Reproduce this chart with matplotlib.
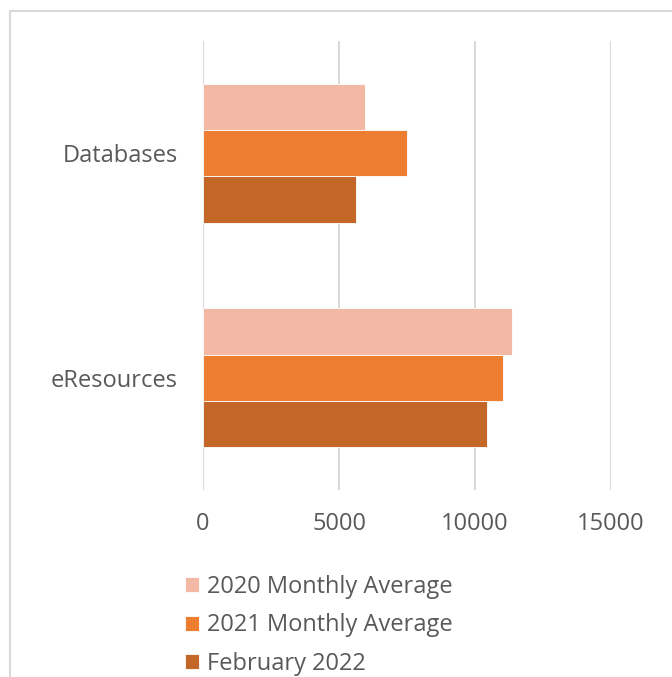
import matplotlib.pyplot as plt
import numpy as np
from matplotlib.patches import Rectangle

plt.rcParams['font.family'] = ['Open Sans', 'DejaVu Sans']

categories = ["Databases", "eResources"]
series = ["2020 Monthly Average", "2021 Monthly Average", "February 2022"]
avg_2020 = [5950, 11370]
avg_2021 = [7500, 11020]
feb_2022 = [5620, 10450]
colors = ["#F4B9A4", "#ED7D31", "#C46628"]
xticks = [0, 5000, 10000, 15000]

W, H = 672, 677
fig = plt.figure(figsize=(W / 100, H / 100), dpi=100)
ax = fig.add_axes([203 / W, (H - 490) / H, (611 - 203) / W, (490 - 41) / H])

# outer chart frame (cropped at right/bottom)
fig.patches.append(Rectangle((10 / W, -0.1), 1.2, (H - 11) / H + 0.1,
                             transform=fig.transFigure, fill=False,
                             edgecolor="#D9D9D9", linewidth=1.5))

y = np.arange(len(categories))
bh = 0.207
for i, (vals, name) in enumerate(zip([avg_2020, avg_2021, feb_2022], series)):
    ax.barh(y + (i - 1) * bh, vals, height=bh, color=colors[i],
            edgecolor="white", linewidth=0.6, label=name, zorder=3)

ax.set_xlim(0, 15000)
ax.set_ylim(1.5, -0.5)
ax.set_xticks(xticks)
ax.set_xticklabels([str(t) for t in xticks])
ax.set_yticks(y)
ax.set_yticklabels(categories)
ax.tick_params(length=0, labelsize=17, colors="#595959")
ax.tick_params(axis="x", pad=16)
ax.tick_params(axis="y", pad=18)
ax.grid(axis="x", color="#D9D9D9", linewidth=1.5, zorder=0)
for s in ax.spines.values():
    s.set_visible(False)

leg = fig.legend(loc="upper left", bbox_to_anchor=(173 / W, 1 - 563 / H),
                 frameon=False, fontsize=17, handlelength=0.6, handleheight=0.6,
                 handletextpad=0.35, labelspacing=0.62, borderpad=0)
for t in leg.get_texts():
    t.set_color("#595959")

fig.savefig("out.png", dpi=100)
